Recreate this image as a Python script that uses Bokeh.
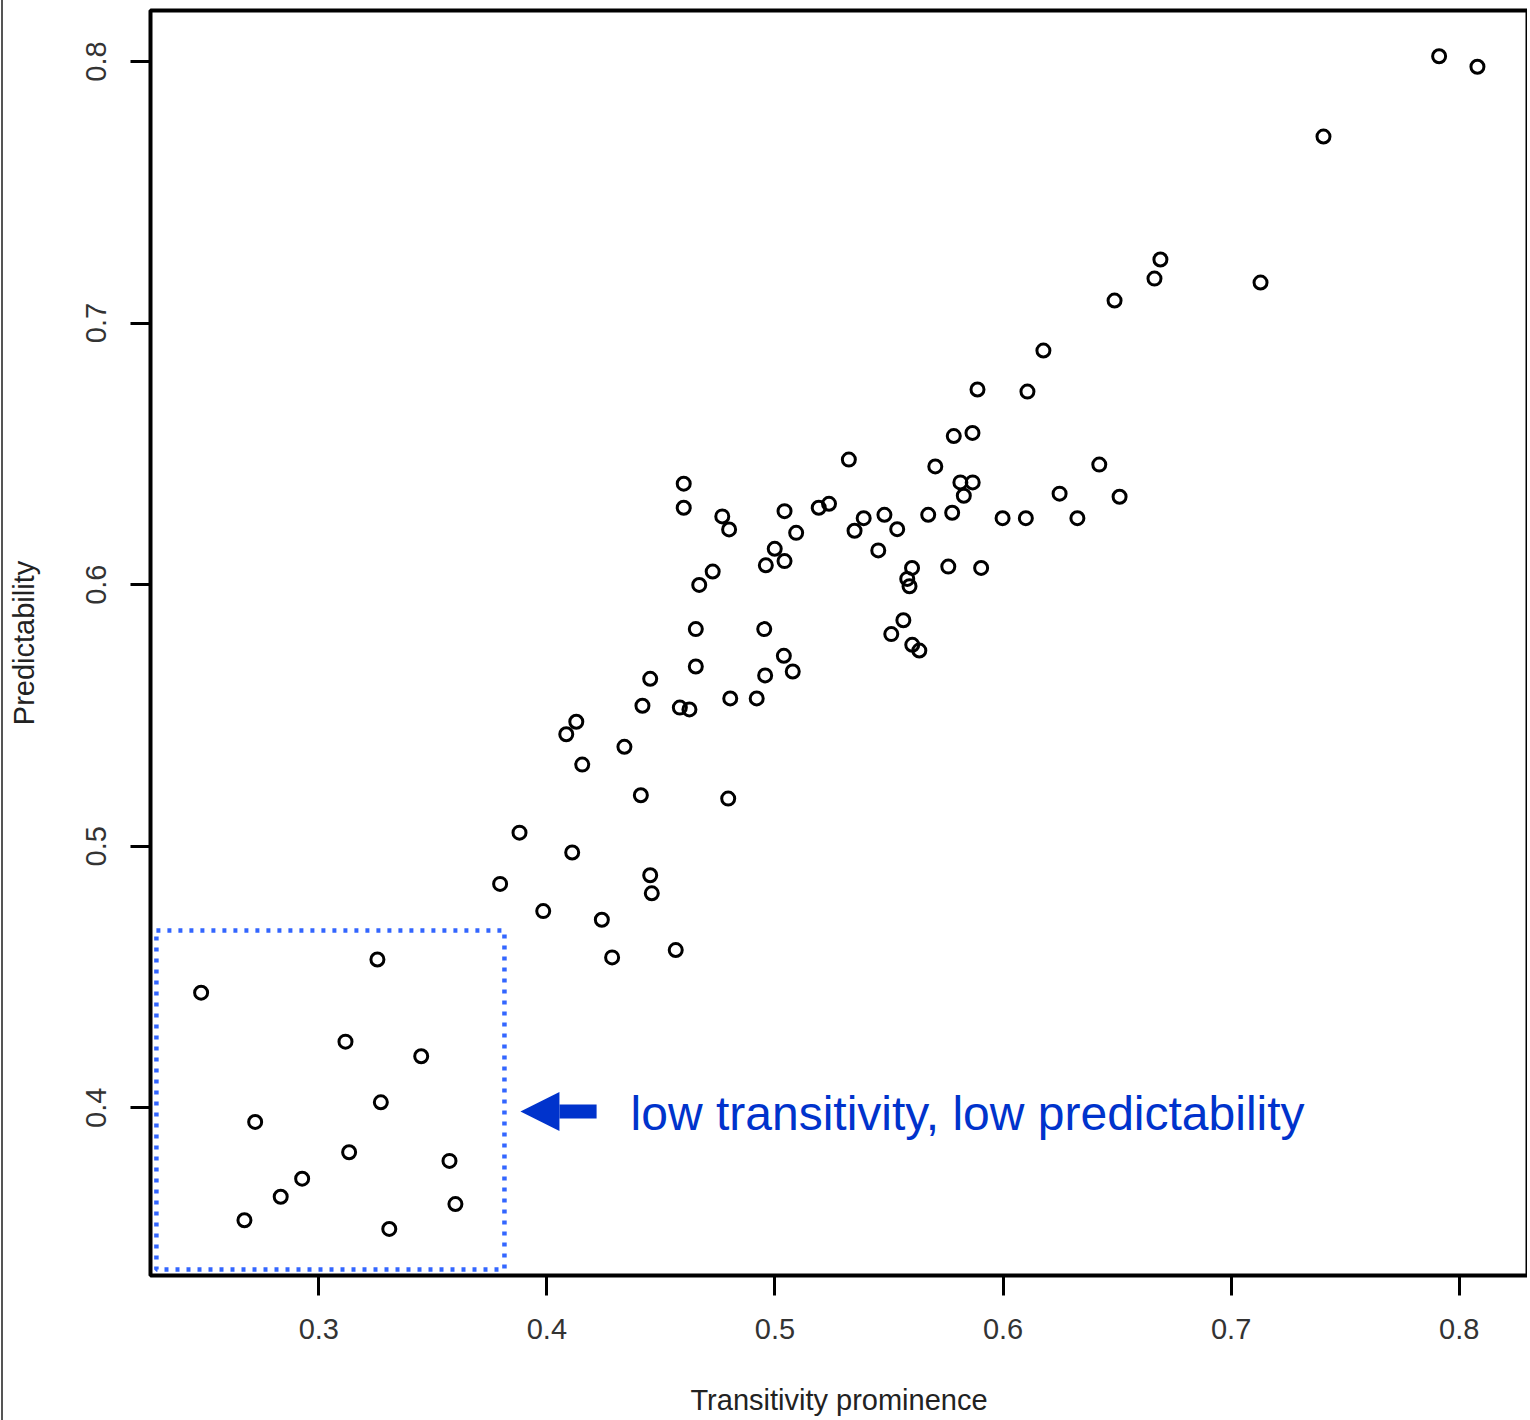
from bokeh.plotting import figure
from bokeh.models import (Range1d, FixedTicker, Arrow, NormalHead, Label, ColumnDataSource)
from bokeh.embed import file_html
from bokeh.resources import INLINE

# ---------------- data ----------------
transitivity = [
    0.7912, 0.8080, 0.7405, 0.6690, 0.6664, 0.7129, 0.6489, 0.6177, 0.5888, 0.6107,
    0.5784, 0.5866, 0.5324, 0.5703, 0.6422, 0.4600, 0.5813, 0.5867, 0.5828, 0.6248,
    0.6511, 0.4600, 0.5192, 0.5237, 0.5042, 0.4769, 0.4799, 0.5093, 0.5349, 0.5389,
    0.5480, 0.5536, 0.5672, 0.5777, 0.5998, 0.6100, 0.6326, 0.4999, 0.5453, 0.4960,
    0.5042, 0.4727, 0.4668, 0.5601, 0.5580, 0.5590, 0.5760, 0.5904, 0.4653, 0.4953,
    0.5563, 0.5510, 0.5602, 0.5633, 0.5039, 0.4653, 0.4957, 0.5078, 0.4453, 0.4419,
    0.4583, 0.4625, 0.4804, 0.4920, 0.4129, 0.4085, 0.4340, 0.4155, 0.4412, 0.4795,
    0.3880, 0.4111, 0.3795, 0.4453, 0.4460, 0.3984, 0.4241, 0.4286, 0.4565, 0.3257,
    0.2484, 0.3117, 0.3449, 0.2721, 0.3272, 0.3133, 0.3573, 0.2927, 0.2833, 0.2674,
    0.3309, 0.3599,
]
predictability = [
    0.8020, 0.7980, 0.7713, 0.7243, 0.7170, 0.7155, 0.7086, 0.6895, 0.6746, 0.6738,
    0.6568, 0.6580, 0.6478, 0.6452, 0.6459, 0.6386, 0.6391, 0.6391, 0.6340, 0.6348,
    0.6336, 0.6294, 0.6294, 0.6309, 0.6281, 0.6261, 0.6211, 0.6198, 0.6206, 0.6254,
    0.6267, 0.6212, 0.6267, 0.6275, 0.6254, 0.6254, 0.6254, 0.6137, 0.6131, 0.6074,
    0.6090, 0.6050, 0.5999, 0.6064, 0.6022, 0.5994, 0.6069, 0.6064, 0.5830, 0.5830,
    0.5864, 0.5811, 0.5770, 0.5748, 0.5728, 0.5687, 0.5653, 0.5668, 0.5640, 0.5537,
    0.5530, 0.5523, 0.5565, 0.5565, 0.5476, 0.5428, 0.5380, 0.5312, 0.5195, 0.5182,
    0.5052, 0.4976, 0.4856, 0.4889, 0.4820, 0.4752, 0.4719, 0.4575, 0.4603, 0.4567,
    0.4440, 0.4253, 0.4197, 0.3946, 0.4021, 0.3830, 0.3797, 0.3729, 0.3660, 0.3570,
    0.3537, 0.3632,
]
x_ticks = [0.3, 0.4, 0.5, 0.6, 0.7, 0.8]
y_ticks = [0.4, 0.5, 0.6, 0.7, 0.8]
x_title = "Transitivity prominence"
y_title = "Predictability"

# highlighted region (low transitivity, low predictability)
region_left = [0.2288]
region_right = [0.3814]
region_bottom = [0.3382]
region_top = [0.4678]
arrow_from = (0.4218, 0.3986)
arrow_to = (0.3884, 0.3986)
note_text = "low transitivity, low predictability"
note_pos = (0.4367, 0.3978)

FONT = "Liberation Sans"
BLUE = "#0033cc"

p = figure(
    width=1526, height=1420,
    x_range=Range1d(0.22621, 0.82995),
    y_range=Range1d(0.33589, 0.81950),
    output_backend="svg", toolbar_location=None,
    min_border_left=147, min_border_right=2,
    min_border_top=10, min_border_bottom=145,
    background_fill_color="white", border_fill_color="white",
)
p.styles = {"border-left": "2px solid #555555", "margin-left": "1px"}

p.outline_line_color = "black"
p.outline_line_width = 4
p.xgrid.visible = False
p.ygrid.visible = False

for ax in (p.xaxis[0], p.yaxis[0]):
    ax.axis_line_color = None
    ax.major_tick_line_color = "black"
    ax.major_tick_line_width = 3
    ax.major_tick_out = 20
    ax.major_tick_in = 0
    ax.minor_tick_line_color = None
    ax.major_label_text_font = FONT
    ax.major_label_text_font_size = "29px"
    ax.major_label_text_color = "#333333"
    ax.axis_label_text_font = FONT
    ax.axis_label_text_font_size = "29px"
    ax.axis_label_text_font_style = "normal"
    ax.axis_label_text_color = "#222222"

p.xaxis[0].ticker = FixedTicker(ticks=x_ticks)
p.yaxis[0].ticker = FixedTicker(ticks=y_ticks)
p.xaxis[0].major_label_overrides = {t: f"{t:.1f}" for t in x_ticks}
p.yaxis[0].major_label_overrides = {t: f"{t:.1f}" for t in y_ticks}
p.xaxis[0].axis_label = x_title
p.yaxis[0].axis_label = y_title
p.yaxis[0].major_label_orientation = "vertical"
p.xaxis[0].major_label_standoff = 23
p.yaxis[0].major_label_standoff = 24
p.xaxis[0].axis_label_standoff = 42
p.yaxis[0].axis_label_standoff = 44

# dotted region box
p.quad(left=region_left, right=region_right, bottom=region_bottom, top=region_top,
       fill_color=None, line_color="#3366ff", line_width=4.5, line_dash="4 7")

# data points
src = ColumnDataSource(dict(x=transitivity, y=predictability))
p.scatter("x", "y", source=src, marker="circle", size=13,
          fill_color=None, line_color="black", line_width=3)

# arrow and annotation
p.add_layout(Arrow(
    end=NormalHead(size=39, fill_color=BLUE, line_color=BLUE, line_width=0),
    x_start=arrow_from[0], y_start=arrow_from[1],
    x_end=arrow_to[0], y_end=arrow_to[1],
    line_color=BLUE, line_width=14,
))
p.add_layout(Label(
    x=note_pos[0], y=note_pos[1], text=note_text,
    text_font=FONT, text_font_size="48px", text_color=BLUE,
    text_baseline="alphabetic", text_align="left",
))

open("out.html", "w").write(file_html(p, INLINE))
